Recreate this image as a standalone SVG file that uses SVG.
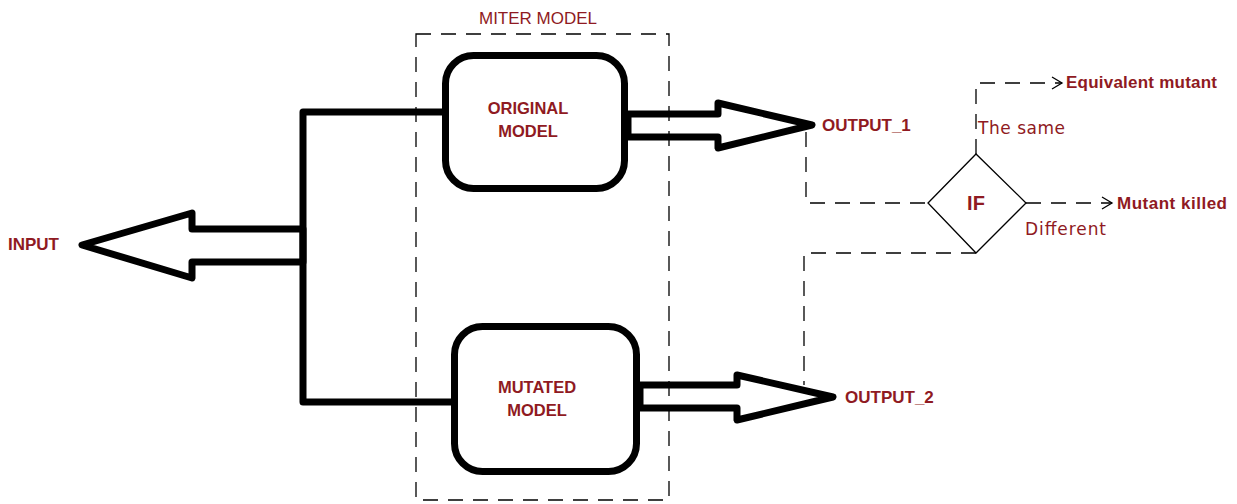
<svg xmlns="http://www.w3.org/2000/svg" width="1237" height="504" viewBox="0 0 1237 504">
<style>
.thick{fill:none;stroke:#000;stroke-width:7;stroke-linejoin:round;stroke-linecap:square}
.box{fill:#fff;stroke:#000;stroke-width:7}
.dash{fill:none;stroke:#000;stroke-width:1.3;stroke-dasharray:15 10}
.thin{fill:none;stroke:#000;stroke-width:1.3}
.lbl{font-family:"Liberation Sans",Arial,sans-serif;fill:#8f1a22;dominant-baseline:central}
.b{font-weight:bold}
.s{font-family:"DejaVu Sans","Liberation Sans",sans-serif}
</style>
<rect width="1237" height="504" fill="#fff"/>
<g id="miter-model">
<rect class="dash" x="416" y="34" width="253" height="466"/>
<text class="lbl" x="538" y="18" font-size="17" text-anchor="middle">MITER MODEL</text>
</g>
<g id="connectors">
<polyline class="thick" points="442,112 303,112 303,402 451,402"/>
<polygon class="thick" points="303,229 192,229 192,213 82,245 192,278 192,262 303,262" fill="#fff"/>
<polygon class="thick" points="628,114 718,114 718,103 812,125 718,148 718,137 628,137" fill="#fff"/>
<polygon class="thick" points="640,385 737,385 737,375 833,397 737,420 737,408 640,408" fill="#fff"/>
<polyline class="dash" points="806,132 806,203 928,203"/>
<polyline class="dash" points="976,253 804,253 804,385"/>
<polyline class="dash" points="976,154 976,83 1062,83"/>
<polyline class="thin" points="1052,77 1062,83 1052,89"/>
<line class="dash" x1="1026" y1="203" x2="1112" y2="203"/>
<polyline class="thin" points="1102,197 1112,203 1102,209"/>
</g>
<g id="original-model">
<rect class="box" x="445.5" y="55.5" width="179" height="133" rx="28"/>
<text class="lbl b" x="528" y="108" font-size="16.5" text-anchor="middle">ORIGINAL</text>
<text class="lbl b" x="528" y="131" font-size="16.5" text-anchor="middle">MODEL</text>
</g>
<g id="mutated-model">
<rect class="box" x="454.5" y="326.5" width="182" height="145" rx="28"/>
<text class="lbl b" x="537" y="387" font-size="16.5" text-anchor="middle">MUTATED</text>
<text class="lbl b" x="537" y="410" font-size="16.5" text-anchor="middle">MODEL</text>
</g>
<g id="input"><text class="lbl b" x="8" y="244" font-size="17">INPUT</text></g>
<g id="output1"><text class="lbl b" x="822" y="125" font-size="17">OUTPUT_1</text></g>
<g id="output2"><text class="lbl b" x="845" y="397" font-size="17">OUTPUT_2</text></g>
<g id="if">
<polygon class="thin" points="928,203 976,154 1026,203 976,253" fill="#fff"/>
<text class="lbl b" x="976" y="203" font-size="20" text-anchor="middle">IF</text>
</g>
<g id="labels">
<text class="lbl s" x="978" y="128" font-size="17" textLength="87">The same</text>
<text class="lbl s" x="1025" y="229" font-size="17" textLength="81">Different</text>
</g>
<g id="equivalent"><text class="lbl b" x="1066" y="82" font-size="17" textLength="151">Equivalent mutant</text></g>
<g id="killed"><text class="lbl b" x="1117" y="203" font-size="17" textLength="110">Mutant killed</text></g>
</svg>
